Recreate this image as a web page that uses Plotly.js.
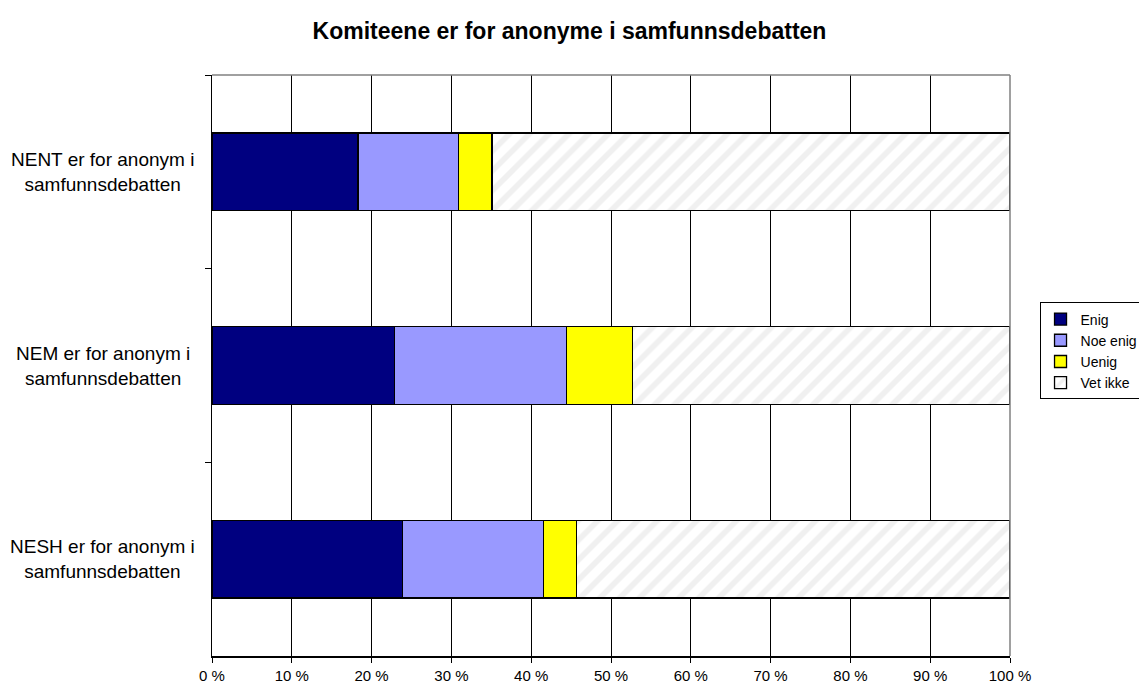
<!DOCTYPE html>
<html>
<head>
<meta charset="utf-8">
<script src="https://cdn.plot.ly/plotly-3.0.1.min.js"></script>
<style>
  html, body { margin: 0; padding: 0; background: #ffffff; }
  #chart { width: 1139px; height: 686px; }
</style>
</head>
<body>
<div id="chart"></div>
<script>
// Data (top to bottom)
var categories = ['NENT', 'NEM', 'NESH'];
var categoryLabels = [
  'NENT er for anonym i<br>samfunnsdebatten',
  'NEM er for anonym i<br>samfunnsdebatten',
  'NESH er for anonym i<br>samfunnsdebatten'
];
var seriesNames = ['Enig', 'Noe enig', 'Uenig', 'Vet ikke'];
var enig    = [18.3, 22.9, 23.9];
var noeEnig = [12.6, 21.5, 17.6];
var uenig   = [4.2, 8.3, 4.2];
var vetIkke = [64.9, 47.3, 54.3];
var xTickVals = [0, 10, 20, 30, 40, 50, 60, 70, 80, 90, 100];
var xTickText = ['0 %', '10 %', '20 %', '30 %', '40 %', '50 %', '60 %', '70 %', '80 %', '90 %', '100 %'];

var FONT = 'Liberation Sans, Arial, Helvetica, sans-serif';
var outline = { color: '#000000', width: 1.3 };

function barTrace(name, values, marker) {
  marker.line = outline;
  return {
    type: 'bar',
    orientation: 'h',
    name: name,
    y: categories,
    x: values,
    marker: marker,
    hoverinfo: 'skip'
  };
}

var traces = [
  barTrace(seriesNames[0], enig, { color: '#000080' }),
  barTrace(seriesNames[1], noeEnig, { color: '#9999FF' }),
  barTrace(seriesNames[2], uenig, { color: '#FFFF00' }),
  barTrace(seriesNames[3], vetIkke, {
    color: '#FFFFFF',
    pattern: { shape: '/', fgcolor: '#f0f0f0', bgcolor: '#ffffff', size: 14, solidity: 0.4 }
  })
];

var annotations = categoryLabels.map(function (lbl, i) {
  return {
    text: lbl,
    xref: 'paper', yref: 'y',
    x: -0.137, y: i,
    xanchor: 'center', yanchor: 'middle',
    align: 'center',
    showarrow: false,
    font: { family: FONT, size: 19, color: '#000000' }
  };
});

var layout = {
  width: 1139,
  height: 686,
  paper_bgcolor: '#ffffff',
  plot_bgcolor: '#ffffff',
  margin: { l: 212, r: 129, t: 75, b: 30, pad: 0, autoexpand: false },
  font: { family: FONT, color: '#000000' },
  title: {
    text: '<b>Komiteene er for anonyme i samfunnsdebatten</b>',
    font: { family: FONT, size: 23, color: '#000000' },
    xref: 'container', x: 0.5, xanchor: 'center',
    yref: 'container', y: 1 - 31 / 686, yanchor: 'middle'
  },
  barmode: 'stack',
  bargap: 0.6,
  showlegend: true,
  legend: {
    x: 1.037, xanchor: 'left',
    y: 0.525, yanchor: 'middle',
    traceorder: 'normal',
    bordercolor: '#000000',
    borderwidth: 1,
    bgcolor: '#ffffff',
    font: { family: FONT, size: 14, color: '#000000' },
    itemwidth: 30,
    tracegroupgap: 0
  },
  xaxis: {
    range: [0, 100],
    tickmode: 'array',
    tickvals: xTickVals,
    ticktext: xTickText,
    ticks: 'outside',
    ticklen: 5,
    tickcolor: '#000000',
    showgrid: true,
    gridcolor: '#000000',
    gridwidth: 1,
    showline: true,
    linecolor: '#000000',
    linewidth: 1.5,
    zeroline: false,
    tickfont: { family: FONT, size: 15, color: '#000000' },
    fixedrange: true
  },
  yaxis: {
    type: 'category',
    autorange: 'reversed',
    showticklabels: false,
    ticks: 'outside',
    tickson: 'boundaries',
    ticklen: 6,
    tickcolor: '#000000',
    showgrid: false,
    showline: true,
    linecolor: '#000000',
    linewidth: 1.5,
    zeroline: false,
    fixedrange: true
  },
  shapes: [
    {
      type: 'line', xref: 'paper', yref: 'paper',
      x0: 0, x1: 1, y0: 1, y1: 1,
      line: { color: '#808080', width: 1.5 }, layer: 'above'
    },
    {
      type: 'line', xref: 'paper', yref: 'paper',
      x0: 1, x1: 1, y0: 0, y1: 1,
      line: { color: '#808080', width: 1.5 }, layer: 'above'
    }
  ],
  annotations: annotations
};

Plotly.newPlot('chart', traces, layout, { displayModeBar: false, staticPlot: true });
</script>
</body>
</html>
